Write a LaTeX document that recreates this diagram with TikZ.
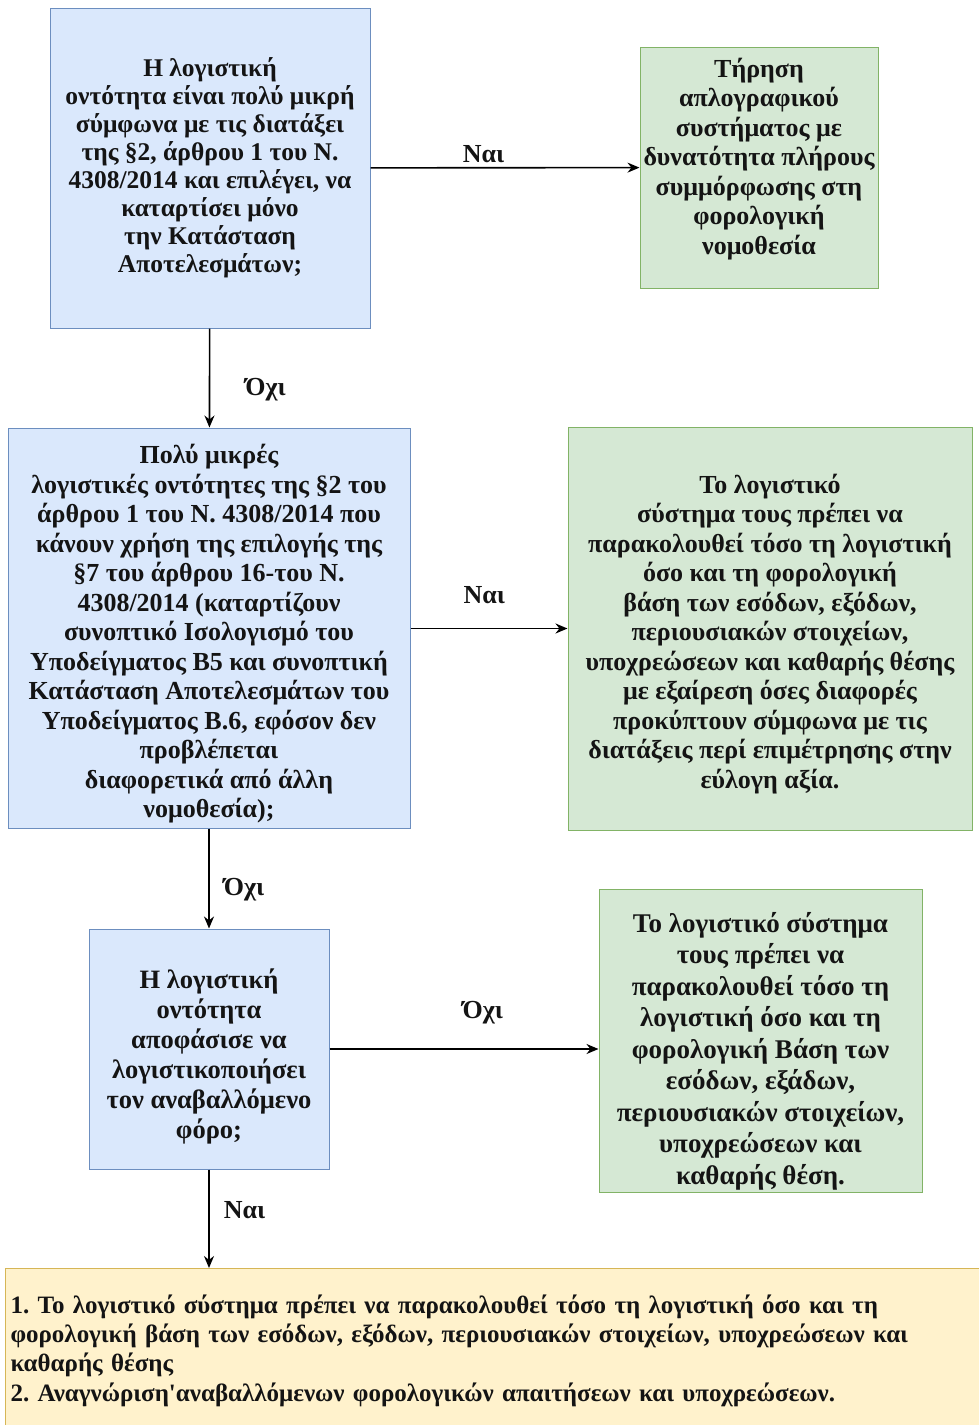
\documentclass[tikz,border=0pt]{standalone}
\usepackage{fontspec}
\setmainfont{Liberation Serif}
\usetikzlibrary{arrows.meta}
\definecolor{QuestionFill}{HTML}{DAE8FC}
\definecolor{QuestionLine}{HTML}{6C8EBF}
\definecolor{AnswerFill}{HTML}{D5E8D4}
\definecolor{AnswerLine}{HTML}{82B366}
\definecolor{ResultFill}{HTML}{FFF2CC}
\definecolor{ResultLine}{HTML}{D6B656}

\begin{document}
\frenchspacing
\begin{tikzpicture}[x=1pt, y=-1pt, ->, >={Stealth[length=12pt,width=10pt]}, line width=1.6pt,
      every node/.append style={font=\fontsize{26}{29.5}\selectfont\bfseries, text=black!92},
      label/.style={draw=none, fill=none, inner sep=2pt}]
  \tikzstyle{question} = [draw=QuestionLine, fill=QuestionFill, line width=1pt, align=center, inner sep=0pt]
  \tikzstyle{answer} = [draw=AnswerLine, fill=AnswerFill, line width=1pt, align=center, inner sep=0pt]
  \tikzstyle{result} = [draw=ResultLine, fill=ResultFill, line width=1pt, align=left, inner xsep=5pt]
  \useasboundingbox (0,0) rectangle (979,1425);
  \clip (0,0) rectangle (979,1425);
  % questions
  \node (small) [question, minimum width=320pt, minimum height=320pt,
      font=\fontsize{25.5}{28}\selectfont\bfseries] at (210,168)
    {Η λογιστική\\ οντότητα είναι πολύ μικρή\\ σύμφωνα με τις διατάξει\\ της §2, άρθρου 1 του Ν.\\
     4308/2014 και επιλέγει, να\\ καταρτίσει μόνο\\ την Κατάσταση\\ Αποτελεσμάτων;};
  \node (verysmall) [question, minimum width=402pt, minimum height=400pt] at (209,628)
    {\rule{0pt}{31pt}Πολύ μικρές\\ λογιστικές οντότητες της §2 του\\ άρθρου 1 του Ν. 4308/2014 που\\
     κάνουν χρήση της επιλογής της\\ §7 του άρθρου 16-του Ν.\\ 4308/2014 (καταρτίζουν\\
     συνοπτικό Ισολογισμό του\\ Υποδείγματος Β5 και συνοπτική\\ Κατάσταση Αποτελεσμάτων του\\
     Υποδείγματος Β.6, εφόσον δεν\\ προβλέπεται\\ διαφορετικά από άλλη\\ νομοθεσία);};
  \node (deferred) [question, minimum width=240pt, minimum height=240pt,
      font=\fontsize{26.5}{30}\selectfont\bfseries] at (209,1049)
    {\rule{0pt}{34pt}Η λογιστική\\ οντότητα\\ αποφάσισε να\\ λογιστικοποιήσει\\ τον αναβαλλόμενο\\ φόρο;};
  % answers
  \node (simple) [answer, minimum width=238pt, minimum height=241pt] at (759,167.5)
    {Τήρηση\\ απλογραφικού\\ συστήματος με\\ δυνατότητα πλήρους\\ συμμόρφωσης στη\\
     φορολογική\\ νομοθεσία\\[-7pt]};
  \node (taxbase) [answer, minimum width=404pt, minimum height=403pt] at (770,628.5)
    {\rule{0pt}{30pt}Το λογιστικό\\ σύστημα τους πρέπει να\\ παρακολουθεί τόσο τη λογιστική\\
     όσο και τη φορολογική\\ βάση των εσόδων, εξόδων,\\ περιουσιακών στοιχείων,\\
     υποχρεώσεων και καθαρής θέσης\\ με εξαίρεση όσες διαφορές\\ προκύπτουν σύμφωνα με τις\\
     διατάξεις περί επιμέτρησης στην\\ εύλογη αξία.};
  \node (taxbasefull) [answer, minimum width=323pt, minimum height=303pt,
      font=\fontsize{27}{31.5}\selectfont\bfseries] at (760.5,1040.5)
    {\rule{0pt}{41pt}Το λογιστικό σύστημα\\ τους πρέπει να\\ παρακολουθεί τόσο τη\\ λογιστική όσο και τη\\
     φορολογική Βάση των\\ εσόδων, εξάδων,\\ περιουσιακών στοιχείων,\\ υποχρεώσεων και\\
     καθαρής θέση.};
  \node (deferredtax) [result, minimum width=985pt, minimum height=164pt, text width=975pt,
      anchor=north west, font=\fontsize{25}{29.3}\selectfont\bfseries] at (5,1268)
    {1. Το λογιστικό σύστημα πρέπει να παρακολουθεί τόσο τη λογιστική όσο και τη\\
     φορολογική βάση των εσόδων, εξόδων, περιουσιακών στοιχείων, υποχρεώσεων και\\
     καθαρής θέσης\\ 2. Αναγνώριση\textquotesingle αναβαλλόμενων φορολογικών απαιτήσεων και υποχρεώσεων.};
  % connectors
  \draw (small) to node [label, pos=0.42, above=2pt] {Ναι} (simple);
  \draw (small) to node [label, pos=0.62, right=33pt] {Όχι} (verysmall);
  \draw (verysmall.east |- taxbase.west) to node [label, pos=0.47, above=22pt] {Ναι} (taxbase.west);
  \draw (verysmall) to node [label, pos=0.61, right=12pt] {Όχι} (deferred);
  \draw (deferred.east) to node [label, pos=0.57, above=22pt] {Όχι} (deferred.east -| taxbasefull.west);
  \draw (deferred.south) to node [label, pos=0.41, right=12pt] {Ναι} (deferred.south |- deferredtax.north);
\end{tikzpicture}
\end{document}
